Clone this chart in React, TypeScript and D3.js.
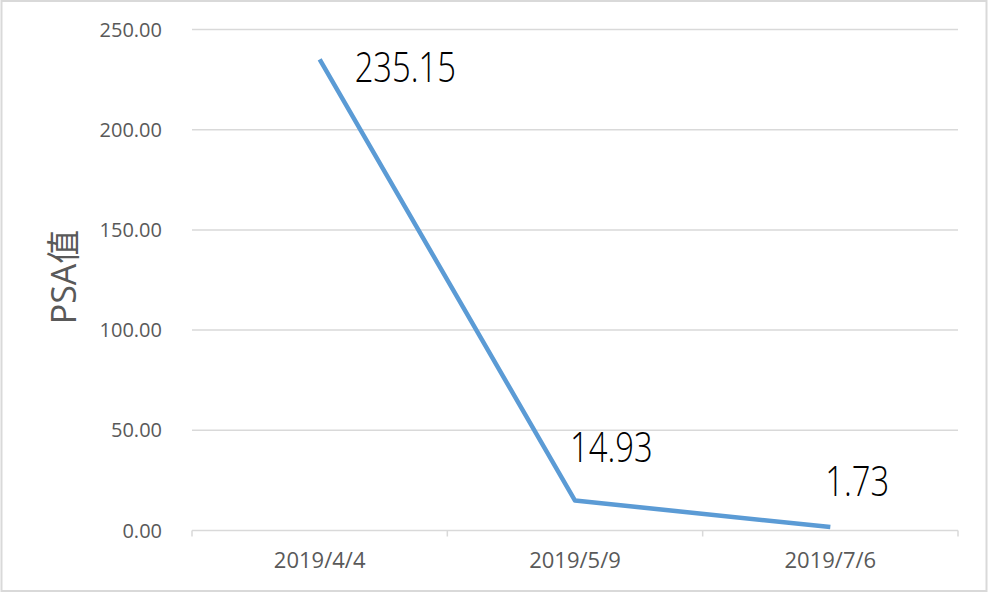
import React from 'react';
import * as d3 from 'd3';

// chart data
const dates = ['2019/4/4', '2019/5/9', '2019/7/6'];
const psaValues = [235.15, 14.93, 1.73];
const yTicks = [0, 50, 100, 150, 200, 250];
const yTitle = 'PSA值';

const App = () => {
  const width = 989;
  const height = 594;
  const margin = { top: 29.5, right: 31, bottom: 63.5, left: 192 };

  const x = d3
    .scaleBand()
    .domain(dates)
    .range([margin.left, width - margin.right]);
  const y = d3
    .scaleLinear()
    .domain([0, 250])
    .range([height - margin.bottom, margin.top]);

  const line = d3
    .line<number>()
    .x((_, i) => (x(dates[i]) || 0) + x.bandwidth() / 2)
    .y((d) => y(d));

  // hand placed labels, like in the original sheet
  const labelOffsets = [
    { dx: 35, dy: 23 },
    { dx: -5, dy: -39 },
    { dx: -5, dy: -31 },
  ];

  const font = '"Open Sans", "Noto Sans CJK SC", sans-serif';
  const grey = '#595959';

  return (
    <div style={{ position: 'absolute', left: 0, top: 0 }}>
      <svg width={width} height={height} style={{ display: 'block' }}>
        <rect x={0} y={0} width={width} height={height} fill="#fff" />
        <rect
          x={1.5}
          y={1}
          width={985}
          height={590}
          fill="none"
          stroke="#d9d9d9"
          strokeWidth={2}
        />

        {/* gridlines + y labels */}
        {yTicks.map((t) => (
          <g key={t}>
            <line
              x1={margin.left}
              x2={width - margin.right}
              y1={y(t)}
              y2={y(t)}
              stroke="#d9d9d9"
              strokeWidth={1.5}
            />
            <text
              x={162}
              y={y(t) + 7}
              textAnchor="end"
              fontFamily={font}
              fontSize={20}
              fill={grey}
            >
              {d3.format('.2f')(t)}
            </text>
          </g>
        ))}

        {/* x axis ticks */}
        {[...dates.map((d) => x(d) || 0), width - margin.right].map((tx, i) => (
          <line
            key={i}
            x1={tx}
            x2={tx}
            y1={y(0)}
            y2={y(0) + 6}
            stroke="#d9d9d9"
            strokeWidth={1.5}
          />
        ))}
        {dates.map((d) => (
          <text
            key={d}
            x={(x(d) || 0) + x.bandwidth() / 2}
            y={568}
            textAnchor="middle"
            fontFamily={font}
            fontSize={22}
            fill={grey}
          >
            {d}
          </text>
        ))}

        {/* y title */}
        <text
          transform="translate(76, 277) rotate(-90)"
          textAnchor="middle"
          fontFamily={font}
          fontSize={34}
          fill={grey}
        >
          {yTitle}
        </text>

        <path
          d={line(psaValues) || undefined}
          fill="none"
          stroke="#5B9BD5"
          strokeWidth={4.5}
          strokeLinejoin="round"
        />

        {psaValues.map((v, i) => {
          const px = (x(dates[i]) || 0) + x.bandwidth() / 2 + labelOffsets[i].dx;
          const py = y(v) + labelOffsets[i].dy;
          return (
            <text
              key={i}
              transform={`translate(${px}, ${py}) scale(0.78, 1)`}
              fontFamily={font}
              fontWeight={300}
              fontSize={42}
              fill="#000"
            >
              {d3.format('.2f')(v)}
            </text>
          );
        })}
      </svg>
    </div>
  );
};

export default App;
